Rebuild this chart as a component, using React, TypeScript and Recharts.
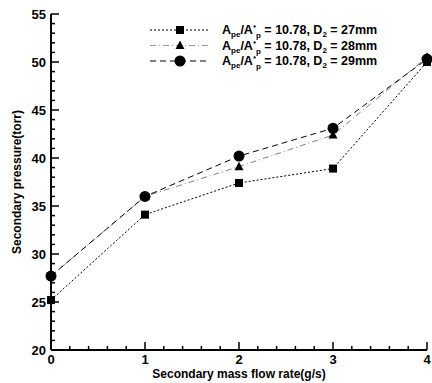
import { LineChart, Line, XAxis, YAxis, Label } from "recharts";

const flowRates = [0, 1, 2, 3, 4];
const pressureD27 = [25.2, 34.1, 37.4, 38.9, 50.0];
const pressureD28 = [27.7, 36.0, 39.1, 42.4, 50.5];
const pressureD29 = [27.7, 36.0, 40.2, 43.1, 50.3];

const seriesNames = ["27mm", "28mm", "29mm"];

const yMajorTicks = [20, 25, 30, 35, 40, 45, 50, 55];
const yTicks = [
  20, 21, 22, 23, 24, 25, 26, 27, 28, 29, 30, 31, 32, 33, 34, 35, 36, 37,
  38, 39, 40, 41, 42, 43, 44, 45, 46, 47, 48, 49, 50, 51, 52, 53, 54, 55,
];
const xMajorTicks = [0, 1, 2, 3, 4];
const xTicks = [
  0, 0.2, 0.4, 0.6, 0.8, 1, 1.2, 1.4, 1.6, 1.8, 2, 2.2, 2.4, 2.6, 2.8, 3,
  3.2, 3.4, 3.6, 3.8, 4,
];

const data = flowRates.map((x, i) => ({
  x,
  d27: pressureD27[i],
  d28: pressureD28[i],
  d29: pressureD29[i],
}));

const FONT = "'Liberation Sans', Arial, sans-serif";

const isMajor = (v: number, majors: number[]) =>
  majors.some((m) => Math.abs(m - v) < 1e-6);

function YTick(props: any) {
  const { x, y, payload } = props;
  const major = isMajor(payload.value, yMajorTicks);
  return (
    <g>
      <line x1={x} y1={y} x2={x + (major ? 8 : 4)} y2={y} stroke="#000" strokeWidth={1.5} />
      {major && (
        <text x={x - 5} y={y} dy={5} textAnchor="end" fontSize={13} fontWeight="bold" fontFamily={FONT} fill="#000">
          {payload.value}
        </text>
      )}
    </g>
  );
}

function XTick(props: any) {
  const { x, y, payload } = props;
  const major = isMajor(payload.value, xMajorTicks);
  return (
    <g>
      <line x1={x} y1={y} x2={x} y2={y - (major ? 8 : 4)} stroke="#000" strokeWidth={1.5} />
      {major && (
        <text x={x} y={y} dy={14} textAnchor="middle" fontSize={13} fontWeight="bold" fontFamily={FONT} fill="#000">
          {payload.value}
        </text>
      )}
    </g>
  );
}

function Marker({ kind, cx, cy }: { kind: string; cx: number; cy: number }) {
  if (kind === "square") return <rect x={cx - 4} y={cy - 4} width={8} height={8} fill="#000" />;
  if (kind === "triangle")
    return <polygon points={`${cx},${cy - 5} ${cx + 4.5},${cy + 3.5} ${cx - 4.5},${cy + 3.5}`} fill="#000" />;
  return <circle cx={cx} cy={cy} r={5.5} fill="#000" />;
}

const makeDot = (kind: string) => (props: any) => (
  <Marker key={`${kind}-${props.index}`} kind={kind} cx={props.cx} cy={props.cy} />
);

const legendRows = [
  { kind: "square", dash: "2 2", name: seriesNames[0] },
  { kind: "triangle", dash: "6 3 1 3", name: seriesNames[1] },
  { kind: "circle", dash: "6 4", name: seriesNames[2] },
];

// legend drawn as an overlay so it doesn't eat into the plot area
function LegendBox() {
  return (
    <svg width={280} height={56} style={{ position: "absolute", left: 145, top: 20 }}>
      {legendRows.map((r, i) => {
        const y = 10 + i * 15.5;
        return (
          <g key={r.name}>
            <line x1={5} y1={y} x2={65} y2={y} stroke="#000" strokeWidth={1} strokeDasharray={r.dash} opacity={r.kind === "triangle" ? 0.4 : 1} />
            <Marker kind={r.kind} cx={35} cy={y} />
            <text x={77} y={y + 4} fontSize={12.5} fontWeight="bold" fontFamily={FONT} fill="#000">
              <tspan>A</tspan>
              <tspan fontSize={8} dy={3}>pe</tspan>
              <tspan dy={-3}>/A</tspan>
              <tspan fontSize={8} dy={-4}>*</tspan>
              <tspan fontSize={8} dy={8}>p</tspan>
              <tspan dy={-4}> = 10.78, D</tspan>
              <tspan fontSize={8} dy={3}>2</tspan>
              <tspan dy={-3}> = {r.name}</tspan>
            </text>
          </g>
        );
      })}
    </svg>
  );
}

export default function App() {
  return (
    <div style={{ position: "absolute", left: 0, top: 0, width: 432, height: 383, background: "#fff" }}>
      <LineChart width={432} height={383} data={data} margin={{ top: 14, right: 5, left: 0, bottom: 0 }}>
        <XAxis
          dataKey="x"
          type="number"
          domain={[0, 4]}
          ticks={xTicks}
          interval={0}
          tickSize={0}
          tickMargin={0}
          tick={<XTick />}
          height={33}
          axisLine={{ stroke: "#000", strokeWidth: 2 }}
        >
          <Label value="Secondary mass flow rate(g/s)" position="insideBottom" offset={5} fontSize={12} fontWeight="bold" fontFamily={FONT} fill="#000" />
        </XAxis>
        <YAxis
          type="number"
          domain={[20, 55]}
          ticks={yTicks}
          interval={0}
          tickSize={0}
          tickMargin={0}
          tick={<YTick />}
          width={51}
          axisLine={{ stroke: "#000", strokeWidth: 2 }}
        >
          <Label value="Secondary pressure(torr)" angle={-90} position="insideLeft" offset={17} style={{ textAnchor: "middle" }} fontSize={12} fontWeight="bold" fontFamily={FONT} fill="#000" />
        </YAxis>
        <Line dataKey="d27" stroke="#000" strokeWidth={1} strokeDasharray="2 2" dot={makeDot("square")} isAnimationActive={false} />
        <Line dataKey="d28" stroke="#000" strokeWidth={1} strokeDasharray="6 3 1 3" strokeOpacity={0.5} dot={makeDot("triangle")} isAnimationActive={false} />
        <Line dataKey="d29" stroke="#000" strokeWidth={1} strokeDasharray="6 4" dot={makeDot("circle")} isAnimationActive={false} />
      </LineChart>
      <LegendBox />
    </div>
  );
}
